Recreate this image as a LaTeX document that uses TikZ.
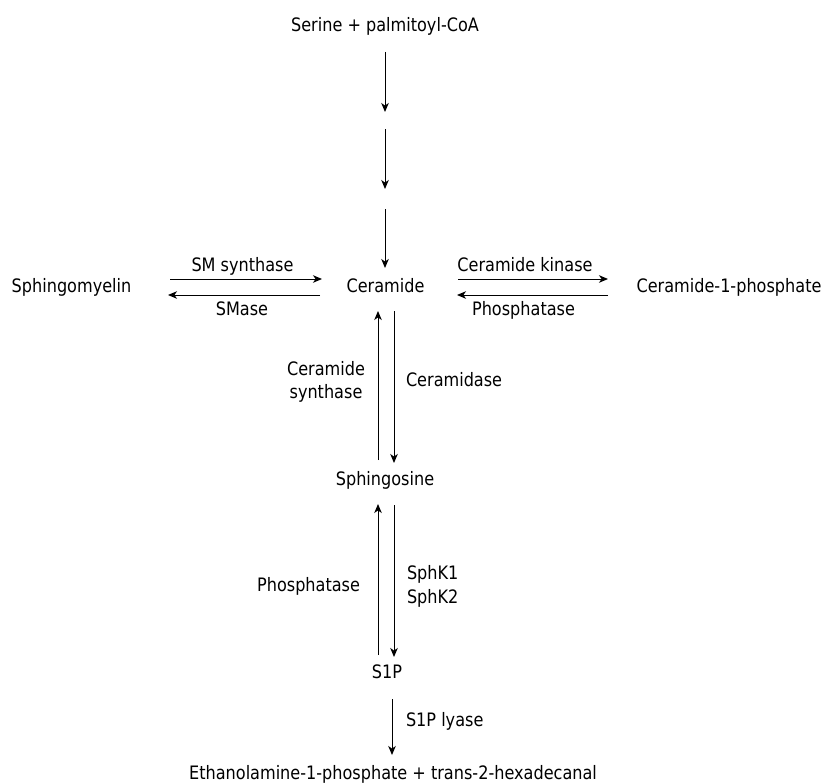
\documentclass[tikz,border=0pt]{standalone}
\usepackage{fontspec}
\setmainfont{DejaVu Sans}[FakeStretch=0.87]
\usetikzlibrary{arrows.meta,calc}
\begin{document}
\begin{tikzpicture}[x=1pt,y=-1pt,
  every node/.style={inner sep=0pt,outer sep=0pt,font=\fontsize{18.5}{23}\selectfont},
  txt/.style={anchor=base},
  arr/.style={-{Stealth[length=9pt,width=7.5pt,inset=2.6pt]},line width=1pt}]
\fill[white] (0,0) rectangle (827,784);
\useasboundingbox (0,0) rectangle (827,784);
% main compounds
\node[txt] (ser) at (385,32) {Serine + palmitoyl-CoA};
\node[txt] (cer) at (385.5,292) {Ceramide};
\node[txt] (sm) at (71.5,292) {Sphingomyelin};
\node[txt] (c1p) at (729,292) {Ceramide-1-phosphate};
\node[txt] (sph) at (385,485) {Sphingosine};
\node[txt] (s1p) at (387,678) {S1P};
\node[txt] (eth) at (393,779) {Ethanolamine-1-phosphate + trans-2-hexadecanal};
% enzyme labels
\node[txt] (lsms) at (242.5,271) {SM synthase};
\node[txt] (lsmase) at (242,315) {SMase};
\node[txt] (lck) at (525,271) {Ceramide kinase};
\node[txt] (lph1) at (523.5,315) {Phosphatase};
\node[txt] (lcs1) at (326,375) {Ceramide};
\node[txt] (lcs2) at (326,398) {synthase};
\node[anchor=base west] (lcd) at (406,386) {Ceramidase};
\node[anchor=base east] (lph2) at (360,591) {Phosphatase};
\node[anchor=base west] (lk1) at (407,579) {SphK1};
\node[anchor=base west] (lk2) at (407,603) {SphK2};
\node[anchor=base west] (lly) at (406,726) {S1P lyase};
% serine -> ceramide (three steps)
\coordinate (s1) at ($(ser.base)+(0,80)$);
\coordinate (s2) at ($(ser.base)+(0,97)$);
\coordinate (s3) at ($(ser.base)+(0,157)$);
\coordinate (s4) at ($(ser.base)+(0,177)$);
\draw[arr] ($(ser.base)+(0,20)$) -- (s1);
\draw[arr] (s2) -- (s3);
\draw[arr] (s4) -- ($(cer.base)+(-0.5,-24)$);
% sphingomyelin <-> ceramide
\draw[arr] ($(sm.base)+(98.5,-13)$) -- ($(cer.base)+(-63.5,-13)$);
\draw[arr] ($(cer.base)+(-65.5,3)$) -- ($(sm.base)+(96.5,3)$);
% ceramide <-> ceramide-1-phosphate
\draw[arr] ($(cer.base)+(72.5,-13)$) -- ($(c1p.base)+(-121,-13)$);
\draw[arr] ($(c1p.base)+(-121,3)$) -- ($(cer.base)+(71.5,3)$);
% ceramide <-> sphingosine
\draw[arr] ($(cer.base)+(8.5,19)$) -- ($(sph.base)+(9,-22)$);
\draw[arr] ($(sph.base)+(-7,-25)$) -- ($(cer.base)+(-7.5,19)$);
% sphingosine <-> S1P
\draw[arr] ($(sph.base)+(9,20)$) -- ($(s1p.base)+(7,-21)$);
\draw[arr] ($(s1p.base)+(-9,-23)$) -- ($(sph.base)+(-7,19)$);
% S1P -> products
\draw[arr] ($(s1p.base)+(5,21)$) -- ($(eth.base)+(-1,-24)$);
\end{tikzpicture}
\end{document}
